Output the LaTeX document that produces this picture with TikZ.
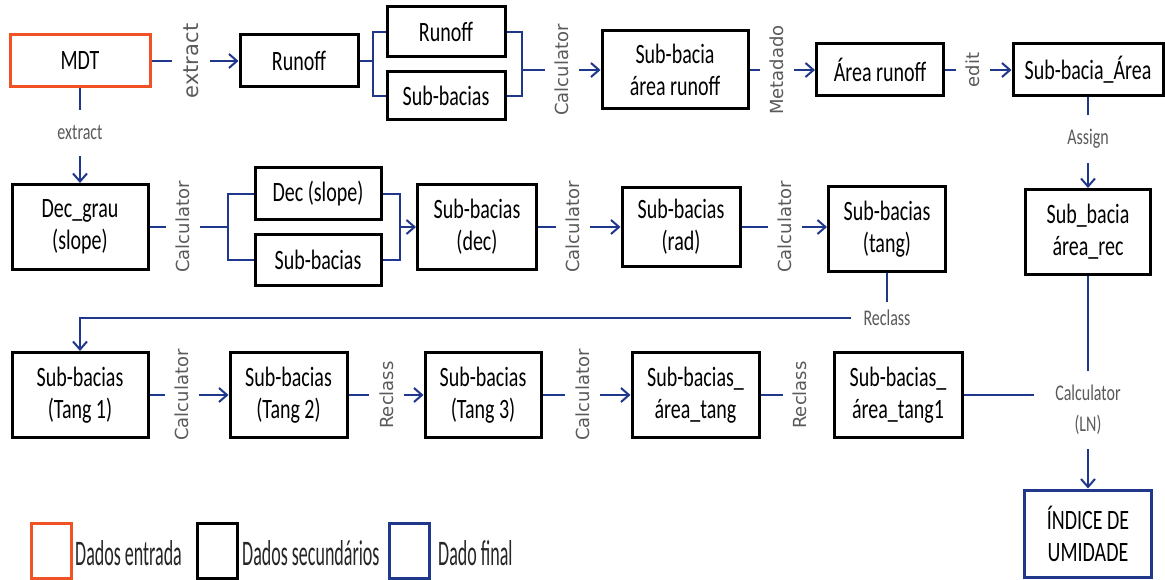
\documentclass[tikz,border=0pt]{standalone}
\usepackage{fontspec}
\setmainfont{Carlito}
\newfontfamily\tallfont{Carlito}[FakeStretch=0.714]
\newfontfamily\legfont{Carlito}[FakeStretch=0.5]
\newfontfamily\labfont{DejaVu Sans}
\usetikzlibrary{arrows.meta}
\definecolor{inorange}{RGB}{240,82,38}
\definecolor{flowblue}{RGB}{32,56,140}
\definecolor{labgray}{RGB}{90,90,90}

\begin{document}
\begin{tikzpicture}[x=1pt,y=-1pt,
  sz/.style 2 args={minimum width=#1pt,minimum height=#2pt},
  databox/.style={draw=black,line width=3pt,fill=white,align=center,inner sep=0pt,
    font=\tallfont\fontsize{28}{32}\selectfont},
  inbox/.style={databox,draw=inorange},
  finalbox/.style={databox,draw=flowblue},
  conn/.style={draw=flowblue,line width=2pt},
  arr/.style={conn,-{Straight Barb[length=8pt,width=14pt]}},
  vlab/.style={rotate=90,font=\labfont\fontsize{18}{20}\selectfont,text=labgray,
    inner sep=0pt,minimum height=34pt},
  hlab/.style={font=\tallfont\fontsize{22.4}{31}\selectfont,text=labgray,inner sep=0pt,align=center},
  legbox/.style={line width=3pt,sz={40}{55},inner sep=0pt},
  legtext/.style={anchor=west,inner sep=0pt,font=\legfont\fontsize{36}{38}\selectfont,text=black!85},
]
\useasboundingbox (0,0) rectangle (1165,580);
\fill[white] (0,0) rectangle (1165,580);

% ---- first row
\node[inbox,sz={140}{52}] (mdt) at (80,61) {MDT};
\node[databox,sz={118}{52}] (run1) at (299,61) {Runoff};
\node[databox,sz={118}{50}] (rtop) at (446,32) {Runoff};
\node[databox,sz={118}{48}] (rbot) at (446,96) {Sub-bacias};
\node[databox,sz={146}{78}] (sbar) at (675,70) {Sub-bacia\\área runoff};
\node[databox,sz={127}{52}] (arear) at (880,70) {Área runoff};
\node[databox,sz={150}{52}] (sba) at (1088,70) {Sub-bacia\_Área};

\node[vlab,minimum height=38pt,font=\labfont\fontsize{21}{22}\selectfont] (l1) at (191,61) {extract};
\draw[conn] (mdt) -- (l1);
\draw[arr] (l1) -- (run1);

\coordinate (b1) at (373,61);
\draw[conn] (run1) -- (b1);
\draw[conn] (rtop.west) -| (b1) |- (rbot.west);

\coordinate (m1) at (522,70);
\draw[conn] (rtop.east) -| (m1) |- (rbot.east);
\node[vlab] (l2) at (562,70) {Calculator};
\draw[conn] (m1) -- (l2);
\draw[arr] (l2) -- (sbar);

\node[vlab] (l3) at (777,70) {Metadado};
\draw[conn] (sbar) -- (l3);
\draw[arr] (l3) -- (arear);

\node[vlab] (l4) at (973,70) {edit};
\draw[conn] (arear) -- (l4);
\draw[arr] (l4) -- (sba);

% ---- second row
\node[databox,sz={136}{85}] (decg) at (80,227) {Dec\_grau\\(slope)};
\node[databox,sz={126}{52}] (decs) at (318,194) {Dec (slope)};
\node[databox,sz={126}{50}] (sb2) at (318,260) {Sub-bacias};
\node[databox,sz={119}{85}] (sdec) at (477,227) {Sub-bacias\\(dec)};
\node[databox,sz={118}{79}] (srad) at (681,227) {Sub-bacias\\(rad)};
\node[databox,sz={117}{85}] (stang) at (887,229) {Sub-bacias\\(tang)};
\node[databox,sz={125}{85}] (arec) at (1088,232) {Sub\_bacia\\área\_rec};

\node[hlab,minimum height=46pt] (l6) at (80,133) {extract};
\draw[conn] (mdt) -- (l6);
\draw[arr] (l6) -- (decg);

\node[vlab] (l7) at (183,227) {Calculator};
\coordinate (b2) at (228,227);
\draw[conn] (decg) -- (l7);
\draw[conn] (l7) -- (b2);
\draw[conn] (decs.west) -| (b2) |- (sb2.west);
\coordinate (m2) at (400,227);
\draw[conn] (decs.east) -| (m2) |- (sb2.east);
\draw[arr] (m2) -- (sdec);

\node[vlab] (l8) at (573,227) {Calculator};
\draw[conn] (sdec) -- (l8);
\draw[arr] (l8) -- (srad);

\node[vlab] (l9) at (785,227) {Calculator};
\draw[conn] (srad) -- (l9);
\draw[arr] (l9) -- (l9 -| stang.west);

\node[hlab,minimum height=48pt] (l5) at (1088,139) {Assign};
\draw[conn] (sba) -- (l5);
\draw[arr] (l5) -- (arec);

% ---- third row
\node[databox,sz={136}{85}] (t1) at (80,395) {Sub-bacias\\(Tang 1)};
\node[databox,sz={117}{85}] (t2) at (288.5,395) {Sub-bacias\\(Tang 2)};
\node[databox,sz={116}{85}] (t3) at (483,395) {Sub-bacias\\(Tang 3)};
\node[databox,sz={127}{85}] (at) at (695.5,395) {Sub-bacias\_\\área\_tang};
\node[databox,sz={128}{85}] (at1) at (898,395) {Sub-bacias\_\\área\_tang1};
\node[finalbox,sz={127}{87}] (ind) at (1088,533.5) {ÍNDICE DE\\UMIDADE};

\node[hlab,inner xsep=12pt,inner ysep=8pt] (l10) at (887,318) {Reclass};
\draw[conn] (stang.south) -- (l10.north);
\draw[arr] (l10.west) -| (t1.north);

\node[vlab] (l11) at (182,395) {Calculator};
\draw[conn] (t1) -- (l11);
\draw[arr] (l11) -- (t2);

\node[vlab] (l12) at (386.5,395) {Reclass};
\draw[conn] (t2) -- (l12);
\draw[arr] (l12) -- (t3);

\node[vlab,minimum height=35pt] (l13) at (582.5,395) {Calculator};
\draw[conn] (t3) -- (l13);
\draw[arr] (l13) -- (at);

\node[vlab] (l14) at (800,395) {Reclass};
\draw[conn] (at) -- (l14);

\node[hlab,inner xsep=21pt,inner ysep=14pt] (l15) at (1088,410) {Calculator\\(LN)};
\draw[conn] (arec.south) -- (l15.north);
\draw[conn] (at1.east) -- (at1.east -| l15.west);
\draw[arr] (l15.south) -- (ind.north);

% ---- legend
\node[legbox,draw=inorange] (k1) at (51,550.5) {};
\node[legtext] (k1t) at (75,553) {Dados entrada};
\node[legbox,draw=black] (k2) at (217,550.5) {};
\node[legtext] (k2t) at (242,553) {Dados secundários};
\node[legbox,draw=flowblue] (k3) at (409,550.5) {};
\node[legtext] (k3t) at (438,553) {Dado final};
\end{tikzpicture}
\end{document}
